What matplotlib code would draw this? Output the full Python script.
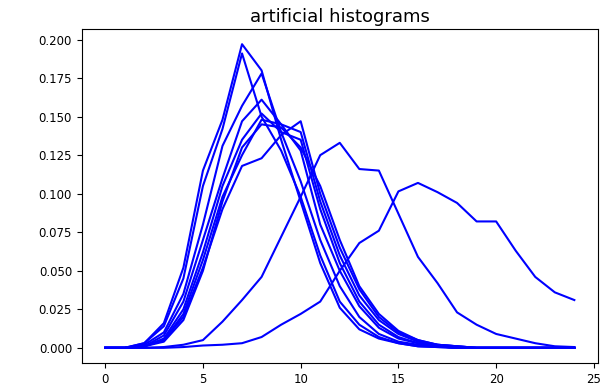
import matplotlib
matplotlib.use("Agg")
import matplotlib.pyplot as plt
import numpy as np

bins = list(range(25))

hist_1 = [0.000, 0.000, 0.003, 0.016, 0.052, 0.115, 0.148, 0.197, 0.180, 0.135, 0.095, 0.055, 0.026, 0.012, 0.006, 0.003, 0.001, 0.0005, 0, 0, 0, 0, 0, 0, 0]
hist_2 = [0.000, 0.000, 0.003, 0.014, 0.045, 0.105, 0.142, 0.191, 0.150, 0.128, 0.098, 0.060, 0.030, 0.015, 0.007, 0.003, 0.001, 0.0005, 0, 0, 0, 0, 0, 0, 0]
hist_3 = [0.000, 0.000, 0.002, 0.010, 0.035, 0.080, 0.131, 0.157, 0.178, 0.140, 0.108, 0.070, 0.040, 0.020, 0.009, 0.004, 0.002, 0.001, 0, 0, 0, 0, 0, 0, 0]
hist_4 = [0.000, 0.000, 0.001, 0.008, 0.030, 0.070, 0.110, 0.147, 0.161, 0.145, 0.128, 0.080, 0.050, 0.027, 0.013, 0.006, 0.003, 0.001, 0, 0, 0, 0, 0, 0, 0]
hist_5 = [0.000, 0.000, 0.001, 0.006, 0.025, 0.062, 0.105, 0.135, 0.152, 0.140, 0.135, 0.090, 0.055, 0.030, 0.015, 0.007, 0.003, 0.001, 0, 0, 0, 0, 0, 0, 0]
hist_6 = [0.000, 0.000, 0.001, 0.005, 0.022, 0.057, 0.098, 0.125, 0.148, 0.145, 0.140, 0.095, 0.060, 0.034, 0.018, 0.009, 0.004, 0.002, 0.001, 0, 0, 0, 0, 0, 0]
hist_7 = [0.000, 0.000, 0.001, 0.005, 0.020, 0.052, 0.090, 0.118, 0.123, 0.138, 0.147, 0.100, 0.065, 0.038, 0.020, 0.010, 0.005, 0.002, 0.001, 0, 0, 0, 0, 0, 0]
hist_8 = [0.000, 0.000, 0.001, 0.004, 0.018, 0.050, 0.095, 0.130, 0.145, 0.143, 0.130, 0.105, 0.070, 0.040, 0.022, 0.011, 0.005, 0.002, 0.001, 0, 0, 0, 0, 0, 0]
hist_9 = [0.000, 0.000, 0.000, 0.0005, 0.002, 0.005, 0.017, 0.031, 0.046, 0.072, 0.098, 0.125, 0.133, 0.116, 0.115, 0.087, 0.059, 0.042, 0.023, 0.015, 0.009, 0.006, 0.003, 0.001, 0.0005]
hist_10 = [0.000, 0.000, 0.000, 0.000, 0.0005, 0.0015, 0.002, 0.003, 0.007, 0.015, 0.022, 0.030, 0.050, 0.068, 0.076, 0.1015, 0.107, 0.101, 0.094, 0.082, 0.082, 0.063, 0.046, 0.036, 0.031]

histograms = [hist_1, hist_2, hist_3, hist_4, hist_5, hist_6, hist_7, hist_8, hist_9, hist_10]

fig = plt.figure(figsize=(6.10, 3.91), dpi=100)
ax = fig.add_axes([0.134, 0.0716, 0.846, 0.8542])
for h in histograms:
    ax.plot(bins, h, color="blue", linewidth=1.5)

ax.set_title("artificial histograms", fontsize=13, pad=5)
ax.set_xticks([0, 5, 10, 15, 20, 25])
ax.set_yticks(np.arange(0, 0.201, 0.025))
ax.yaxis.set_major_formatter(matplotlib.ticker.FormatStrFormatter("%.3f"))
ax.tick_params(labelsize=8.5)

fig.savefig("out.png", dpi=100)
